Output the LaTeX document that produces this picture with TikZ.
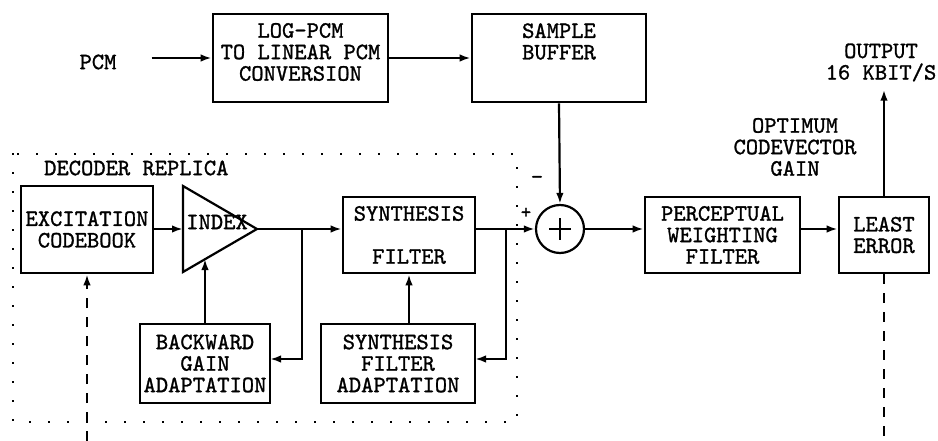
\documentclass[tikz,border=0pt]{standalone}
\usepackage{fontspec}
\newfontfamily\tw[Extension=.otf,FakeBold=1.2]{lmmono10-regular}
\usetikzlibrary{arrows.meta}
\begin{document}
\begin{tikzpicture}[x=1pt,y=-1pt,
  every node/.style={font=\tw\fontsize{23.4}{21.5}\selectfont, inner sep=0pt, align=center},
  blk/.style={draw, line width=2.6pt, rectangle},
  conn/.style={line width=2.2pt},
  arr/.style={conn, -{Latex[length=11pt,width=7.5pt]}},
  dsh/.style={line width=2.2pt, dash pattern=on 10pt off 9pt},
  dotbox/.style={line width=2.4pt, line cap=rect, dash pattern=on 0.01pt off 18.99pt}]
\useasboundingbox (0,0) rectangle (938,441);
% dotted decoder replica region
\draw[dotbox] (13,154) rectangle (517,422);
\node (dr) [anchor=west] at (44,168) {DECODER REPLICA};
% top row
\node (pcm) at (98,62) {PCM};
\node (log) [blk, minimum width=175pt, minimum height=88pt] at (300.5,58) {};
\node (logt) at (300.5,52) {LOG-PCM\\TO LINEAR PCM\\CONVERSION};
\node (sb) [blk, minimum width=174pt, minimum height=88pt] at (559,58) {};
\node (sbt) at (559,41.5) {SAMPLE\\BUFFER};
\node (out) at (881,62.5) {OUTPUT\\16 KBIT/S};
\node (ocg) at (795,147) {OPTIMUM\\CODEVECTOR\\GAIN};
% decoder boxes
\node (exc) [blk, minimum width=132pt, minimum height=87pt] at (87,229.5) {EXCITATION\\CODEBOOK};
\coordinate (triL) at (183,229);
\coordinate (triT) at (183,186);
\coordinate (triB) at (183,272);
\coordinate (triR) at (257,229);
\draw[line width=2.2pt, line join=miter] (triT) -- (triR) -- (triB) -- cycle;
\node (idx) at (217,222) {INDEX};
\node (sf) [blk, minimum width=132pt, minimum height=76pt] at (409,235) {SYNTHESIS\\\strut\\FILTER};
\node (bg) [blk, minimum width=130pt, minimum height=79pt] at (205,363.5) {BACKWARD\\GAIN\\ADAPTATION};
\node (sfa) [blk, minimum width=154pt, minimum height=79pt] at (398,363.5) {SYNTHESIS\\FILTER\\ADAPTATION};
% summing junction
\node (sum) [draw, circle, line width=2.2pt, minimum size=48pt] at (560,229) {};
\draw[line width=2pt] ([xshift=-11pt]sum.center) -- ([xshift=11pt]sum.center)
      ([yshift=-11pt]sum.center) -- ([yshift=11pt]sum.center);
\node (plus) at (526,213) {\fontsize{20}{20}\selectfont +};
\node (minus) at (537,180) {\char"2013};
% right boxes
\node (pwf) [blk, minimum width=155pt, minimum height=76pt] at (722.5,235) {PERCEPTUAL\\WEIGHTING\\FILTER};
\node (le) [blk, minimum width=90pt, minimum height=76pt] at (884,235) {LEAST\\ERROR};
% junctions and coordinates
\coordinate (j1) at (302,229);
\coordinate (j2) at (506,229);
\coordinate (bgin) at (270,359);
\coordinate (sfain) at (475,359);
\coordinate (triBin) at (205,259);
\coordinate (excbot) at (87,441);
\coordinate (lebot) at (884,441);
% connectors
\draw[arr, shorten <=35pt] (pcm.east |- log.west) -- (log.west);
\draw[arr] (log.east) -- (sb.west);
\draw[arr] (sb.south) -- (sum.north);
\draw[arr] (exc.east |- triL) -- (triL);
\draw[arr] (triR) -- (sf.west |- triR);
\draw[arr] (j1) |- (bgin);
\draw[arr] (bg.north) -- (triBin);
\draw[arr] (sf.east |- triR) -- (sum.west);
\draw[arr] (j2) |- (sfain);
\draw[arr] (sfa.north -| sf.south) -- (sf.south);
\draw[arr] (sum.east) -- (pwf.west |- sum.east);
\draw[arr] (pwf.east |- sum.east) -- (le.west |- sum.east);
\draw[arr, shorten >=8pt] (le.north) -- (le.north |- out.south);
\draw[dsh, -{Latex[length=11pt,width=7.5pt]}] (excbot) -- (exc.south);
\draw[dsh] (le.south) -- (lebot);
\end{tikzpicture}
\end{document}
